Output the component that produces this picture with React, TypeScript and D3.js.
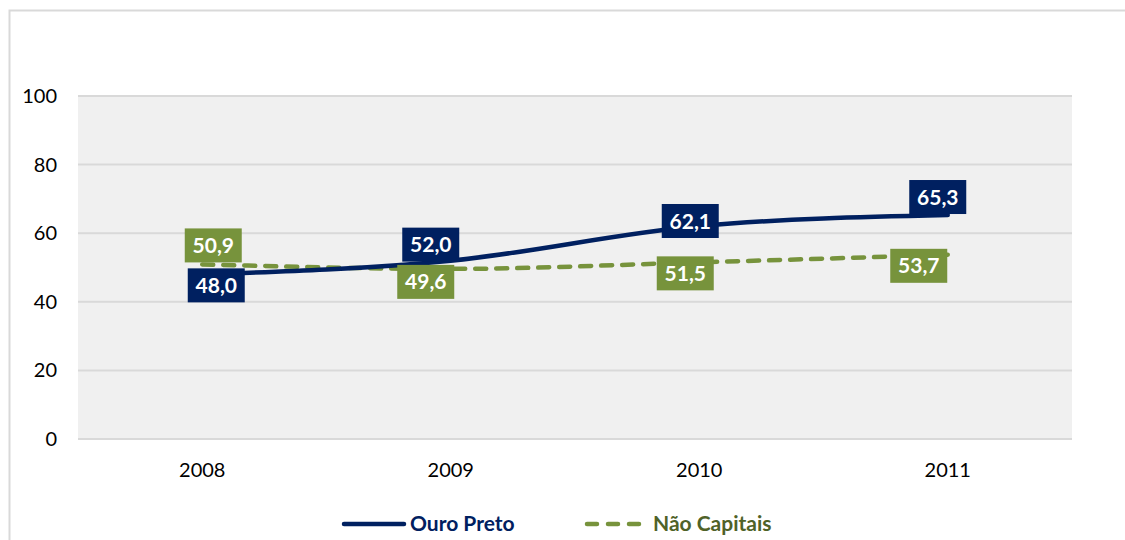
import React, { useEffect, useRef } from 'react';
import * as d3 from 'd3';

const years = ['2008', '2009', '2010', '2011'];
const ouroPreto = [48.0, 52.0, 62.1, 65.3];
const naoCapitais = [50.9, 49.6, 51.5, 53.7];
const yTicks = [0, 20, 40, 60, 80, 100];

// label box offsets from the point (as placed in the original)
const ouroLabelOffsets = [[14, 11], [-20, -16], [-9, -5], [-10, -18]];
const naoLabelOffsets = [[11, -19], [-25, 13], [-14, 11], [-29, 11]];

const BLUE = '#002060';
const GREEN = '#77933c';

export default function App() {
  const ref = useRef<SVGSVGElement>(null);

  useEffect(() => {
    if (!ref.current) return;
    const svg = d3.select(ref.current);
    svg.selectAll('*').remove();

    const width = 1125;
    const height = 540;
    const margin = { top: 96, right: 53, bottom: 101, left: 78 };
    const font = 'Lato, "Open Sans", sans-serif';

    // outer frame
    svg.append('rect')
      .attr('x', 9.5).attr('y', 10.5)
      .attr('width', width + 20).attr('height', height + 20)
      .attr('fill', '#fff').attr('stroke', '#d9d9d9').attr('stroke-width', 2);

    const x = d3.scaleBand<string>()
      .domain(years)
      .range([margin.left, width - margin.right]);

    const y = d3.scaleLinear()
      .domain([0, 100])
      .range([height - margin.bottom, margin.top]);

    const cx = (i: number) => x(years[i])! + x.bandwidth() / 2;

    // plot area
    svg.append('rect')
      .attr('x', margin.left).attr('y', margin.top)
      .attr('width', width - margin.left - margin.right)
      .attr('height', height - margin.top - margin.bottom)
      .attr('fill', '#f0f0f0');

    // grid
    svg.append('g')
      .selectAll('line')
      .data(yTicks)
      .enter()
      .append('line')
      .attr('x1', margin.left).attr('x2', width - margin.right)
      .attr('y1', (d) => y(d)).attr('y2', (d) => y(d))
      .attr('stroke', '#d9d9d9').attr('stroke-width', 2);

    // y labels
    svg.append('g')
      .selectAll('text')
      .data(yTicks)
      .enter()
      .append('text')
      .attr('x', 57).attr('y', (d) => y(d))
      .attr('dy', '0.35em')
      .attr('text-anchor', 'end')
      .attr('font-family', font).attr('font-size', 20).attr('fill', '#000')
      .text((d) => d);

    // x labels
    svg.append('g')
      .selectAll('text')
      .data(years)
      .enter()
      .append('text')
      .attr('x', (d, i) => cx(i)).attr('y', 477)
      .attr('text-anchor', 'middle')
      .attr('font-family', font).attr('font-size', 20).attr('fill', '#000')
      .text((d) => d);

    const line = d3.line<number>()
      .x((d, i) => cx(i))
      .y((d) => y(d))
      .curve(d3.curveMonotoneX);

    svg.append('path')
      .datum(naoCapitais)
      .attr('fill', 'none')
      .attr('stroke', GREEN).attr('stroke-width', 4.5)
      .attr('stroke-dasharray', '11 10').attr('stroke-linecap', 'round')
      .attr('d', line);

    svg.append('path')
      .datum(ouroPreto)
      .attr('fill', 'none')
      .attr('stroke', BLUE).attr('stroke-width', 4.5)
      .attr('stroke-linecap', 'round')
      .attr('d', line);

    // data labels
    const boxW = 57;
    const boxH = 34;
    const drawLabels = (vals: number[], offs: number[][], color: string) => {
      const g = svg.append('g');
      vals.forEach((v, i) => {
        const bx = cx(i) + offs[i][0];
        const by = y(v) + offs[i][1];
        g.append('rect')
          .attr('x', bx - boxW / 2).attr('y', by - boxH / 2)
          .attr('width', boxW).attr('height', boxH)
          .attr('fill', color);
        g.append('text')
          .attr('x', bx).attr('y', by)
          .attr('dy', '0.36em')
          .attr('text-anchor', 'middle')
          .attr('font-family', font).attr('font-weight', 'bold')
          .attr('font-size', 21).attr('fill', '#fff')
          .text(v.toFixed(1).replace('.', ','));
      });
    };
    drawLabels(naoCapitais, naoLabelOffsets, GREEN);
    drawLabels(ouroPreto, ouroLabelOffsets, BLUE);

    // legend
    const lg = svg.append('g');
    lg.append('line')
      .attr('x1', 344).attr('x2', 404).attr('y1', 524).attr('y2', 524)
      .attr('stroke', BLUE).attr('stroke-width', 4.5).attr('stroke-linecap', 'round');
    lg.append('text')
      .attr('x', 410).attr('y', 524).attr('dy', '0.35em')
      .attr('font-family', font).attr('font-weight', 'bold').attr('font-size', 21)
      .attr('fill', BLUE).text('Ouro Preto');
    lg.append('line')
      .attr('x1', 587).attr('x2', 640).attr('y1', 524).attr('y2', 524)
      .attr('stroke', GREEN).attr('stroke-width', 4.5)
      .attr('stroke-dasharray', '10 11').attr('stroke-linecap', 'round');
    lg.append('text')
      .attr('x', 653).attr('y', 524).attr('dy', '0.35em')
      .attr('font-family', font).attr('font-weight', 'bold').attr('font-size', 21)
      .attr('fill', '#4f6228').text('Não Capitais');
  }, []);

  return (
    <svg
      ref={ref}
      width={1125}
      height={540}
      style={{ position: 'absolute', left: 0, top: 0, display: 'block' }}
    />
  );
}
